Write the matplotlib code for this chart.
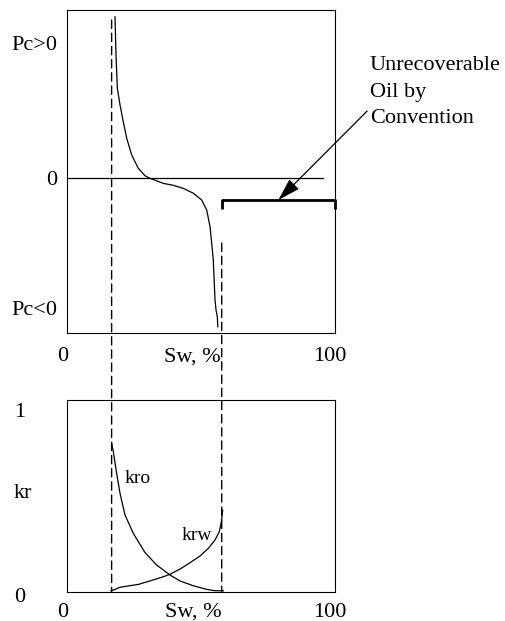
import matplotlib
matplotlib.use("Agg")
import matplotlib.pyplot as plt
from matplotlib.patches import ConnectionPatch

plt.rcParams["font.family"] = ["Liberation Serif", "DejaVu Serif"]
plt.rcParams["font.size"] = 16

# Saturation end points (Sw, %)
sw_wc = 16.8        # connate water saturation
sw_or = 57.8        # 1 - residual oil saturation

# Capillary pressure curve (normalised Pc)
pc_sw = [18.06, 18.44, 18.92, 19.93, 21.15, 22.42, 24.28, 26.74, 29.24, 31.10,
         33.59, 36.05, 39.78, 43.50, 47.23, 50.35, 52.22, 53.45, 54.08, 54.67,
         54.93, 55.31, 55.68, 56.16, 56.35]
pc_val = [0.995, 0.759, 0.553, 0.450, 0.346, 0.244, 0.140, 0.058, 0.012, -0.004,
          -0.019, -0.035, -0.047, -0.066, -0.096, -0.138, -0.200, -0.303, -0.406, -0.509,
          -0.612, -0.756, -0.818, -0.859, -0.921]
pc_zero_end = 95.4
pc_limits = (-0.96, 1.04)
bracket_level = -0.138
bracket_tick = -0.195
wc_line_top = 0.975
or_line_top = -0.404

# Relative permeability curves
kro_sw = [16.82, 17.44, 18.68, 19.93, 21.79, 24.89, 29.24, 33.58, 38.55, 42.27,
          47.24, 52.20, 55.31, 58.41]
kro_val = [0.774, 0.730, 0.617, 0.513, 0.400, 0.304, 0.204, 0.139, 0.087, 0.056,
           0.031, 0.012, 0.005, 0.005]
krw_sw = [16.57, 18.06, 19.93, 23.03, 26.75, 31.10, 36.07, 38.55, 42.27, 45.99,
          49.72, 52.82, 55.31, 56.92, 57.79, 58.16]
krw_val = [0.004, 0.012, 0.023, 0.030, 0.038, 0.056, 0.078, 0.091, 0.118, 0.151,
           0.186, 0.226, 0.270, 0.313, 0.374, 0.426]

fig = plt.figure(figsize=(5.05, 6.21), dpi=100)
ax1 = fig.add_axes([0.1317, 0.4638, 0.5317, 0.5209])
ax2 = fig.add_axes([0.1317, 0.0472, 0.5317, 0.3087])

lw = 0.9
for ax in (ax1, ax2):
    ax.set_xlim(0, 100)
    ax.set_xticks([])
    ax.set_yticks([])
    for s in ax.spines.values():
        s.set_linewidth(0.8)
ax1.set_ylim(*pc_limits)
ax2.set_ylim(0, 1)

# --- capillary pressure panel ---
ax1.plot([0, pc_zero_end], [0, 0], color="black", lw=lw)
ax1.plot(pc_sw, pc_val, color="black", lw=lw)
ax1.plot([sw_or, sw_or, 100, 100],
         [bracket_tick, bracket_level, bracket_level, bracket_tick],
         color="black", lw=2.0, clip_on=False, solid_capstyle="butt")

ax1.annotate("Unrecoverable\nOil by\nConvention",
             xy=((sw_or + 100) / 2, bracket_level), xycoords="data",
             xytext=(1.130, 0.649), textcoords="axes fraction",
             ha="left", va="baseline", linespacing=1.52, annotation_clip=False,
             arrowprops=dict(arrowstyle="-|>,head_length=1.0,head_width=0.3",
                             mutation_scale=14, color="black", lw=0.9,
                             shrinkA=0, shrinkB=0, relpos=(-0.02, 0.24)))

ax1.text(-0.0354, 0.875, "Pc>0", transform=ax1.transAxes, ha="right", va="baseline")
ax1.text(-0.0354, 0.4575, "0", transform=ax1.transAxes, ha="right", va="baseline")
ax1.text(-0.0354, 0.0556, "Pc<0", transform=ax1.transAxes, ha="right", va="baseline")
ax1.text(-0.013, -0.088, "0", transform=ax1.transAxes, ha="center", va="baseline")
ax1.text(0.467, -0.088, "Sw, %", transform=ax1.transAxes, ha="center", va="baseline")
ax1.text(0.981, -0.088, "100", transform=ax1.transAxes, ha="center", va="baseline")

# --- relative permeability panel ---
ax2.plot(kro_sw, kro_val, color="black", lw=lw)
ax2.plot(krw_sw, krw_val, color="black", lw=lw)
ax2.text(0.218, 0.565, "kro", transform=ax2.transAxes, ha="left", va="baseline", fontsize=14)
ax2.text(0.429, 0.27, "krw", transform=ax2.transAxes, ha="left", va="baseline", fontsize=14)

ax2.text(-0.173, 0.913, "1", transform=ax2.transAxes, ha="center", va="baseline")
ax2.text(-0.164, 0.489, "kr", transform=ax2.transAxes, ha="center", va="baseline")
ax2.text(-0.173, -0.052, "0", transform=ax2.transAxes, ha="center", va="baseline")
ax2.text(-0.015, -0.130, "0", transform=ax2.transAxes, ha="center", va="baseline")
ax2.text(0.471, -0.130, "Sw, %", transform=ax2.transAxes, ha="center", va="baseline")
ax2.text(0.9795, -0.130, "100", transform=ax2.transAxes, ha="center", va="baseline")

# End-point saturations carried through both panels
for sw, top in ((sw_wc, wc_line_top), (sw_or, or_line_top)):
    con = ConnectionPatch(xyA=(sw, top), coordsA=ax1.transData,
                          xyB=(sw, 0), coordsB=ax2.transData,
                          color="black", lw=1.0, linestyle=(0, (6, 3.5)))
    fig.add_artist(con)

fig.savefig("out.png", dpi=100)
